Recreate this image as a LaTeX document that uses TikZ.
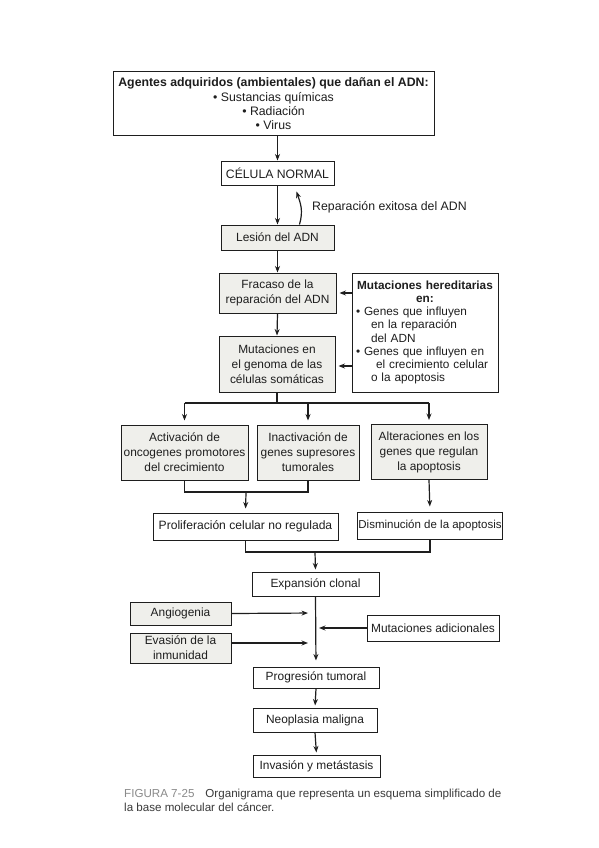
\documentclass[tikz,border=0pt]{standalone}
\usepackage{fontspec}
\setmainfont{Liberation Sans}
\usetikzlibrary{arrows.meta,calc}
\definecolor{boxgray}{HTML}{EFEFEB}
\definecolor{inkc}{HTML}{1E1E1E}
\definecolor{capgray}{HTML}{8A8A8A}
\definecolor{captext}{HTML}{3A3A3A}
\begin{document}
\begin{tikzpicture}[x=1pt,y=-1pt,
  box/.style={draw=inkc,line width=1pt,fill=white,text=inkc,align=center,inner sep=0.5pt,
    font=\fontsize{11.9}{15}\selectfont},
  gbox/.style={box,fill=boxgray},
  conn/.style={draw=inkc,line width=1.2pt},
  arr/.style={conn,-{Stealth[length=6.5pt,width=5pt]}},
]
\useasboundingbox (0,0) rectangle (599,848);
\fill[white] (0,0) rectangle (599,848);

% nodes
\node[box,minimum width=321pt,minimum height=63pt,font=\fontsize{12.3}{14}\selectfont] (agentes) at (273.5,103.5)
  {\textbf{Agentes adquiridos (ambientales) que dañan el ADN:}\\[1pt]
   • Sustancias químicas\\ • Radiación\\ • Virus};
\node[box,minimum width=113pt,minimum height=24pt,font=\fontsize{12.2}{15}\selectfont] (celula) at (277.5,173) {CÉLULA NORMAL};
\node[gbox,minimum width=113pt,minimum height=25pt] (lesion) at (277.5,237.5) {Lesión del ADN};
\node[gbox,minimum width=117pt,minimum height=40pt] (fracaso) at (277.5,293) {Fracaso de la\\reparación del ADN};
\node[box,minimum width=146pt,minimum height=119pt,align=left,text width=138pt,inner xsep=4pt,
      font=\fontsize{11.8}{13.2}\selectfont] (hered) at (425,332.5)
  {\centering\textbf{Mutaciones hereditarias}\\ \textbf{en:}\par
   \raggedright
   • Genes que influyen\\
   \hspace*{15pt}en la reparación\\
   \hspace*{15pt}del ADN\\
   • Genes que influyen en\\
   \hspace*{20pt}el crecimiento celular\\
   \hspace*{15pt}o la apoptosis};
\node[gbox,minimum width=116pt,minimum height=56pt] (mutgen) at (277,364) {Mutaciones en\\el genoma de las\\células somáticas};
\node[gbox,minimum width=127pt,minimum height=55pt] (act) at (184.5,452.5) {Activación de\\oncogenes promotores\\del crecimiento};
\node[gbox,minimum width=102pt,minimum height=55pt] (inact) at (308,452.5) {Inactivación de\\genes supresores\\tumorales};
\node[gbox,minimum width=116pt,minimum height=55pt] (alter) at (429,452) {Alteraciones en los\\genes que regulan\\la apoptosis};
\node[box,minimum width=185pt,minimum height=27pt,font=\fontsize{12.1}{15}\selectfont] (prolif) at (245.5,526.5) {Proliferación celular no regulada};
\node[box,minimum width=144pt,minimum height=27pt,font=\fontsize{11.5}{15}\selectfont] (dismin) at (430,525.5) {Disminución de la apoptosis};
\node[box,minimum width=127pt,minimum height=24pt] (expan) at (315.5,584) {Expansión clonal};
\node[gbox,minimum width=101pt,minimum height=23pt] (angio) at (180.5,613.5) {Angiogenia};
\node[gbox,minimum width=101pt,minimum height=30pt] (evasion) at (180.5,648) {Evasión de la\\inmunidad};
\node[box,minimum width=132pt,minimum height=26pt] (mutad) at (433,628) {Mutaciones adicionales};
\node[box,minimum width=126pt,minimum height=21pt] (progres) at (316,677.5) {Progresión tumoral};
\node[box,minimum width=124pt,minimum height=24pt] (neo) at (315,720) {Neoplasia maligna};
\node[box,minimum width=127pt,minimum height=22pt] (invas) at (316.5,766) {Invasión y metástasis};

\node[anchor=west,text=inkc,inner sep=0pt,font=\fontsize{12.3}{14}\selectfont] (rep) at (312,207) {Reparación exitosa del ADN};

% coordinates
\coordinate (split) at (277,403);
\coordinate (join1) at (246,492);
\coordinate (join2) at (315,552);
\coordinate (mainA) at (315,613);
\coordinate (mainB) at (315,628);
\coordinate (mainC) at (315,643);

% connectors
\draw[arr] (celula.north |- agentes.south) -- (celula.north);
\draw[arr] (celula.south) -- (lesion.north);
\draw[arr] ([xshift=22pt]lesion.north) .. controls +(4,-14) and +(4,12) .. ([xshift=19pt,yshift=-6pt]celula.south);
\draw[arr] (lesion.south) -- (fracaso.north);
\draw[arr] (fracaso.south) -- (mutgen.north);
\draw[arr,shorten >=3pt] (hered.west |- fracaso.east) -- (fracaso.east);
\draw[arr,shorten >=3pt] (hered.west |- 0,366) -- (mutgen.east |- 0,366);
\draw[conn] (mutgen.south) -- (split);
\draw[conn] (act.north |- split) -- (alter.north |- split);
\draw[arr,shorten >=4pt] (act.north |- split) -- (act.north);
\draw[arr,shorten >=4pt] (inact.north |- split) -- (inact.north);
\draw[arr,shorten >=4pt] (alter.north |- split) -- (alter.north);
\draw[conn] (act.south) -- (act.south |- join1) -- (inact.south |- join1) -- (inact.south);
\draw[arr,shorten >=4pt] (join1) -- (prolif.north);
\draw[arr,shorten >=5pt] (alter.south) -- (dismin.north);
\draw[conn] (prolif.south) -- (prolif.south |- join2) -- (dismin.south |- join2) -- (dismin.south);
\draw[arr,shorten >=2pt] (join2) -- (expan.north);
\draw[arr,shorten >=6pt] (expan.south) -- (progres.north);
\draw[arr,shorten >=7pt] (angio.east) -- (mainA);
\draw[arr,shorten >=7pt] (evasion.east |- mainC) -- (mainC);
\draw[arr,shorten >=4pt] (mutad.west) -- (mainB);
\draw[arr,shorten >=2pt] (progres.south) -- (neo.north);
\draw[arr,shorten >=2pt] (neo.south) -- (invas.north);

% caption
\node[anchor=base west,text=captext,font=\fontsize{11.6}{14}\selectfont,inner sep=0pt] (cap1) at (124,797)
  {{\color{capgray}FIGURA 7-25}\hspace{11pt}Organigrama que representa un esquema simplificado de};
\node[anchor=base west,text=captext,font=\fontsize{11.6}{14}\selectfont,inner sep=0pt] (cap2) at (124,811)
  {la base molecular del cáncer.};
\end{tikzpicture}
\end{document}
